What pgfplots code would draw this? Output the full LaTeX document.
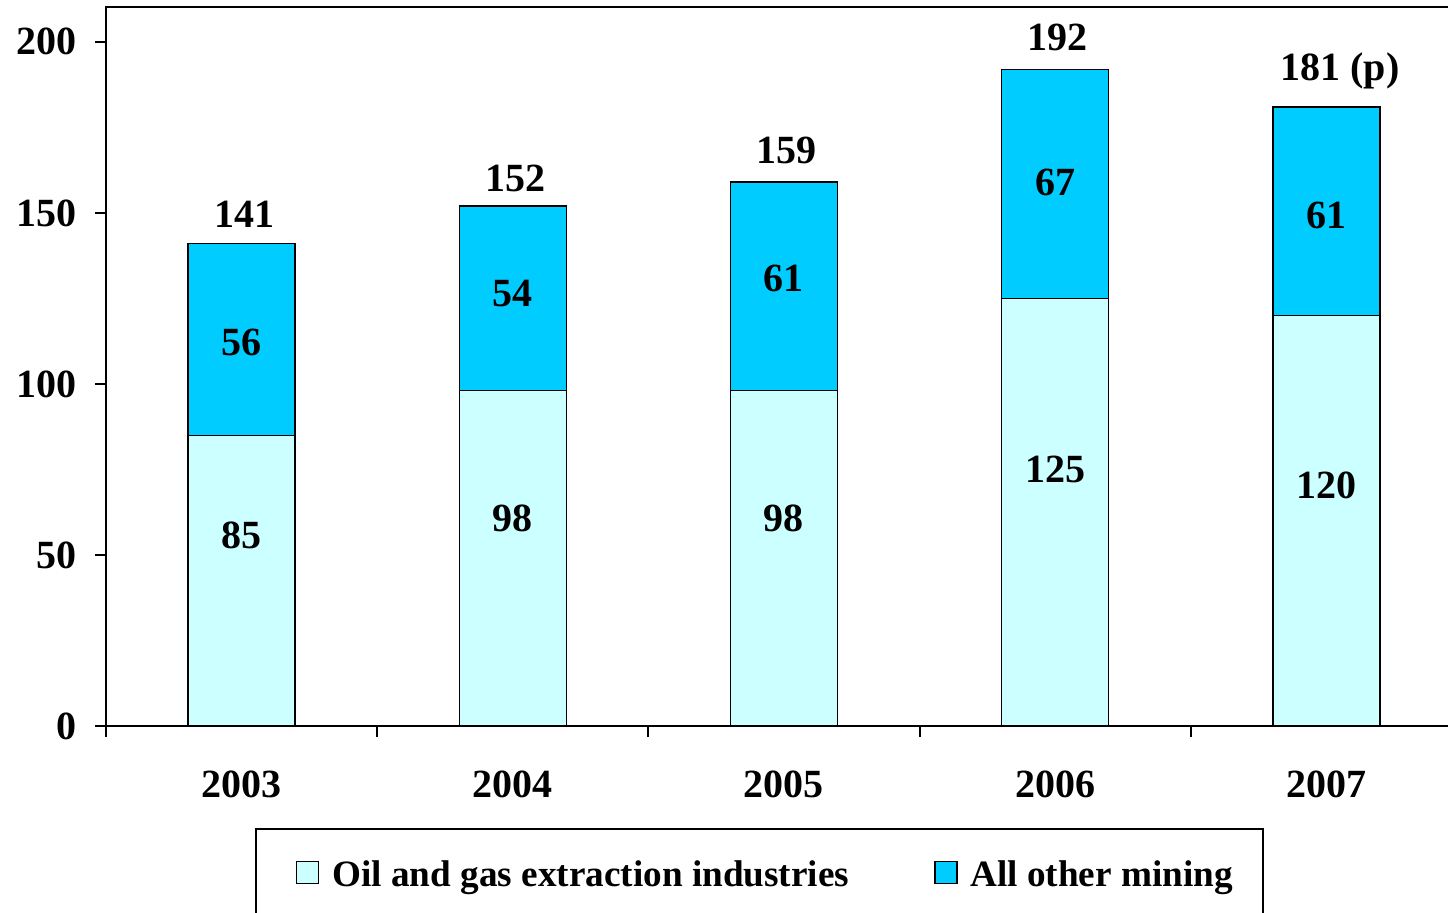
\documentclass[border=0pt]{standalone}
\usepackage{fontspec}
\setmainfont{Liberation Serif}
\usepackage{pgfplots}
\pgfplotsset{compat=1.18}
\definecolor{lightc}{HTML}{CCFFFF}
\definecolor{cyanb}{HTML}{00CCFF}
\newcommand{\lf}{\fontsize{20}{24}\selectfont\bfseries}
\newcommand{\lgf}{\fontsize{18.6}{22}\selectfont\bfseries}
\begin{document}
\begin{tikzpicture}[x=1pt,y=1pt]
\begin{axis}[
  at={(53pt,-363pt)}, anchor=south west,
  scale only axis, width=678pt, height=359.5pt,
  xmin=-0.5, xmax=4.5, ymin=0, ymax=210.2,
  ybar stacked, bar width=0.395,
  xtick={-0.5,0.5,1.5,2.5,3.5,4.5},
  xticklabels={,,,,,},
  extra x ticks={0,1,2,3,4},
  extra x tick labels={2003,2004,2005,2006,2007},
  extra x tick style={major tick length=0pt},
  ytick={0,50,100,150,200},
  xtick pos=bottom, ytick pos=left,
  tick align=outside, major tick length=5.5pt,
  tick style={black, line width=1pt},
  axis line style={line width=1pt},
  /pgf/number format/assume math mode=true,
  yticklabel style={font=\lf, xshift=-5.5pt},
  xticklabel style={font=\lf, yshift=-19pt},
  legend columns=2,
  legend style={at={(0.1099,-0.1419)}, anchor=north west, draw=black, line width=1pt,
    font=\lgf, inner xsep=13pt, inner ysep=14pt,
    /tikz/every even column/.append style={column sep=33.5pt}},
  every axis plot post/.append style={legend image code/.code={%
    \path (-7pt,0pt) (15.5pt,0pt);
    \draw[#1] (0pt,-4pt) rectangle (11pt,7pt);}},
]
\addplot[fill=lightc, draw=black, line width=0.7pt] coordinates {(0,85) (1,98) (2,98) (3,125) (4,120)};
\addlegendentry{Oil and gas extraction industries}
\addplot[fill=cyanb, draw=black, line width=0.7pt] coordinates {(0,56) (1,54) (2,61) (3,67) (4,61)};
\addlegendentry{All other mining}
\coordinate (b0) at (axis cs:0,55.8);
\coordinate (b1) at (axis cs:1,60.8);
\coordinate (b2) at (axis cs:2,60.8);
\coordinate (b3) at (axis cs:3,74.9);
\coordinate (b4) at (axis cs:4,70.2);
\coordinate (t0) at (axis cs:0,112);
\coordinate (t1) at (axis cs:1,126.3);
\coordinate (t2) at (axis cs:2,130.7);
\coordinate (t3) at (axis cs:3,158.8);
\coordinate (t4) at (axis cs:4,149.4);
\coordinate (s0) at (axis cs:0.01,149.7);
\coordinate (s1) at (axis cs:1.01,160);
\coordinate (s2) at (axis cs:2.01,168.4);
\coordinate (s3) at (axis cs:3.01,201.2);
\coordinate (s4) at (axis cs:4.05,191.5);
\end{axis}
\node[font=\lf] at (b0) {85};
\node[font=\lf] at (b1) {98};
\node[font=\lf] at (b2) {98};
\node[font=\lf] at (b3) {125};
\node[font=\lf] at (b4) {120};
\node[font=\lf] at (t0) {56};
\node[font=\lf] at (t1) {54};
\node[font=\lf] at (t2) {61};
\node[font=\lf] at (t3) {67};
\node[font=\lf] at (t4) {61};
\node[font=\lf] at (s0) {141};
\node[font=\lf] at (s1) {152};
\node[font=\lf] at (s2) {159};
\node[font=\lf] at (s3) {192};
\node[font=\lf] at (s4) {181 (p)};
\pgfresetboundingbox
\useasboundingbox (0,0) rectangle (724,-456.5);
\end{tikzpicture}
\end{document}
